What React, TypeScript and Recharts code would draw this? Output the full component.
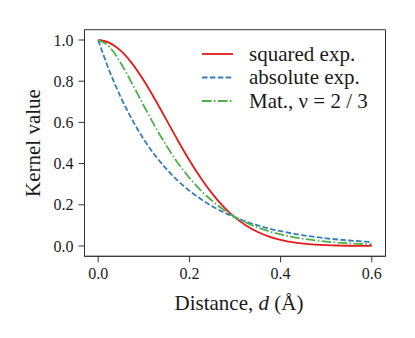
import React from 'react';
import { LineChart, Line, XAxis, YAxis, ReferenceArea } from 'recharts';

const distances = [0, 0.025, 0.05, 0.075, 0.1, 0.125, 0.15, 0.175, 0.2, 0.225, 0.25, 0.275, 0.3, 0.325, 0.35, 0.375, 0.4, 0.425, 0.45, 0.475, 0.5, 0.525, 0.55, 0.575, 0.6];
const squaredExp = [1, 0.986, 0.947, 0.884, 0.803, 0.71, 0.611, 0.511, 0.416, 0.33, 0.254, 0.19, 0.139, 0.0986, 0.0681, 0.0458, 0.0299, 0.019, 0.0118, 0.0071, 0.0042, 0.0024, 0.0013, 0.0007, 0.0004];
const absoluteExp = [1, 0.848, 0.72, 0.611, 0.518, 0.439, 0.373, 0.316, 0.268, 0.228, 0.193, 0.164, 0.139, 0.118, 0.1, 0.0848, 0.072, 0.061, 0.0518, 0.0439, 0.0373, 0.0316, 0.0268, 0.0228, 0.0193];
const matern = [1, 0.966, 0.886, 0.786, 0.681, 0.579, 0.486, 0.402, 0.331, 0.27, 0.219, 0.176, 0.141, 0.113, 0.0897, 0.0712, 0.0563, 0.0444, 0.0349, 0.0274, 0.0215, 0.0168, 0.0131, 0.0102, 0.008];

const xTicks = [0, 0.2, 0.4, 0.6];
const yTicks = [0, 0.2, 0.4, 0.6, 0.8, 1.0];
const xDomain = [-0.03, 0.63];
const yDomain = [-0.05, 1.05];
const seriesLabels = ['squared exp.', 'absolute exp.', 'Mat.,  \u03bd = 2 / 3'];
const seriesKeys = ['sq', 'abs', 'mat'];
const seriesColors = ['#e41a1c', '#377eb8', '#4daf4a'];
const seriesDashes = ['', '5.5 2.4', '9.6 2.4 1.5 2.4'];

const data = distances.map((d, i) => ({ d, sq: squaredExp[i], abs: absoluteExp[i], mat: matern[i] }));

const FONT = '"Liberation Serif", "Times New Roman", Times, serif';
const AXIS_COLOR = '#333333';
const TEXT_COLOR = '#1a1a1a';

const LegendBox = () => (
  <svg width={215} height={80} style={{ display: 'block', position: 'absolute', left: 190, top: 30 }}>
    {seriesLabels.map((label, i) => (
      <g key={label}>
        <line x1={4} x2={35} y1={16 + i * 23.5} y2={16 + i * 23.5} stroke={seriesColors[i]} strokeWidth={1.8} strokeDasharray={seriesDashes[i] || undefined} />
        <text x={51} y={16 + i * 23.5 + 6.5} fontFamily={FONT} fontSize={21} fill={TEXT_COLOR}>{label}</text>
      </g>
    ))}
  </svg>
);

const XLabel = (props: any) => {
  const vb = props.viewBox || {};
  return (
    <text x={vb.x + vb.width / 2 + 4} y={vb.y + 54} textAnchor="middle" fontFamily={FONT} fontSize={21} fill={TEXT_COLOR}>
      <tspan>Distance, </tspan>
      <tspan fontStyle="italic">d</tspan>
      <tspan>{'  (\u00c5)'}</tspan>
    </text>
  );
};

const YLabel = (props: any) => {
  const vb = props.viewBox || {};
  const cy = vb.y + vb.height / 2;
  return (
    <text x={32} y={cy} transform={`rotate(-90, 32, ${cy})`} textAnchor="middle" fontFamily={FONT} fontSize={21} fill={TEXT_COLOR}>
      Kernel value
    </text>
  );
};

const XTick = (props: any) => {
  const { x, y, payload } = props;
  return (
    <text x={x} y={y + 13} textAnchor="middle" fontFamily={FONT} fontSize={16} fill={TEXT_COLOR}>
      {Number(payload.value).toFixed(1)}
    </text>
  );
};

const YTick = (props: any) => {
  const { x, y, payload } = props;
  return (
    <text x={x} y={y + 5.5} textAnchor="end" fontFamily={FONT} fontSize={16} fill={TEXT_COLOR}>
      {Number(payload.value).toFixed(1)}
    </text>
  );
};

export default function App() {
  return (
    <div style={{ position: 'relative', width: 407, height: 322 }}>
      <LineChart width={407} height={322} data={data} margin={{ top: 21.7, right: 29.5, bottom: 43.7, left: 16.5 }}>
        <XAxis
          type="number"
          dataKey="d"
          domain={xDomain}
          ticks={xTicks}
          allowDataOverflow
          height={30}
          tickSize={6}
          tickMargin={4}
          stroke={AXIS_COLOR}
          tick={<XTick />}
          label={<XLabel />}
        />
        <YAxis
          type="number"
          domain={yDomain}
          ticks={yTicks}
          allowDataOverflow
          width={60}
          tickSize={6}
          tickMargin={5}
          stroke={AXIS_COLOR}
          tick={<YTick />}
          label={<YLabel />}
        />
        <ReferenceArea x1={xDomain[0]} x2={xDomain[1]} y1={yDomain[0]} y2={yDomain[1]} fill="none" stroke={AXIS_COLOR} strokeWidth={1} ifOverflow="visible" />
        {seriesKeys.map((k, i) => (
          <Line
            key={k}
            type="monotone"
            dataKey={k}
            name={seriesLabels[i]}
            stroke={seriesColors[i]}
            strokeWidth={1.8}
            strokeDasharray={seriesDashes[i] || undefined}
            dot={false}
            activeDot={false}
            isAnimationActive={false}
          />
        ))}
      </LineChart>
      <LegendBox />
    </div>
  );
}
